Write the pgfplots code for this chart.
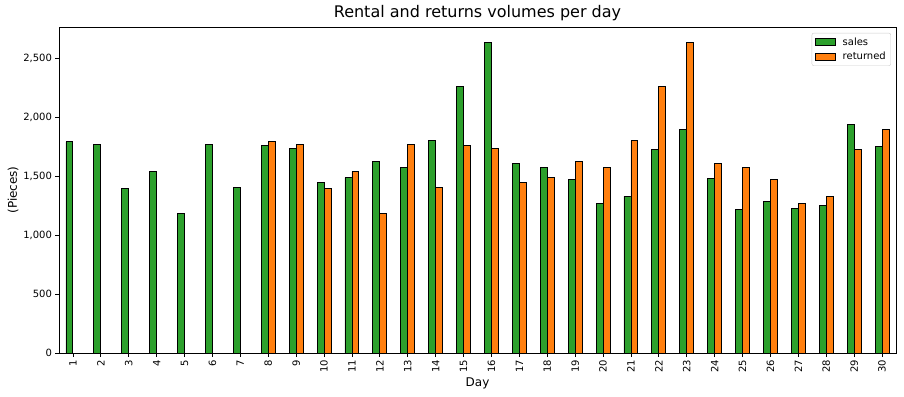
\documentclass[border=0pt]{standalone}
\usepackage{pgfplots}
\pgfplotsset{compat=1.18}
\usepackage{fontspec}
\setmainfont{DejaVu Sans}
\definecolor{mgreen}{HTML}{2CA02C}
\definecolor{morange}{HTML}{FF7F0E}
\begin{document}
\begin{tikzpicture}[x=1pt,y=1pt]
\begin{axis}[
  at={(0,0)}, anchor=south west,
  scale only axis, width=837pt, height=326pt,
  xmin=-0.5, xmax=29.5, ymin=0, ymax=2768,
  xtick={0,...,29},
  xticklabels={1,2,3,4,5,6,7,8,9,10,11,12,13,14,15,16,17,18,19,20,21,22,23,24,25,26,27,28,29,30},
  x tick label style={rotate=90, anchor=east, font=\fontsize{10}{12}\selectfont},
  ytick={0,500,1000,1500,2000,2500},
  y tick label style={font=\fontsize{10}{12}\selectfont},
  /pgf/number format/assume math mode=true,
  /pgf/number format/.cd, 1000 sep={,}, /pgfplots/.cd,
  scaled y ticks=false,
  tick align=outside, major tick length=3.5pt,
  xtick pos=bottom, ytick pos=left,
  axis line style={line width=0.8pt},
  tick style={line width=0.8pt, black},
  title={Rental and returns volumes per day},
  title style={font=\fontsize{16}{19}\selectfont, yshift=-3pt},
  xlabel={Day}, ylabel={(Pieces)},
  xlabel style={font=\fontsize{12}{14}\selectfont, yshift=2pt},
  ylabel style={font=\fontsize{12}{14}\selectfont, yshift=-2pt},
  legend style={at={(0.994,0.982)}, anchor=north east, font=\fontsize{10}{12}\selectfont,
    draw=black!20, rounded corners=2pt, inner xsep=3pt, inner ysep=2.5pt, row sep=1.5pt,
    /tikz/every odd column/.append style={column sep=5pt}},
  legend cell align=left,
  legend image code/.code={\draw[#1, sharp corners, line width=0.8pt] (0pt,-3.5pt) rectangle (20pt,3.5pt);},
]
\addplot[ybar, bar width=0.25, bar shift=-0.125, fill=mgreen, draw=black, line width=0.9pt] coordinates {
(0,1793) (1,1770) (2,1397) (3,1541) (4,1185) (5,1770) (6,1406) (7,1762) (8,1736) (9,1448)
(10,1490) (11,1626) (12,1578) (13,1804) (14,2262) (15,2636) (16,1609) (17,1575) (18,1473) (19,1270)
(20,1329) (21,1728) (22,1898) (23,1482) (24,1219) (25,1287) (26,1227) (27,1253) (28,1940) (29,1753)
};
\addlegendentry{sales}
\addplot[ybar, bar width=0.25, bar shift=0.125, fill=morange, draw=black, line width=0.9pt] coordinates {
(7,1793) (8,1770) (9,1397) (10,1541) (11,1185) (12,1770) (13,1406) (14,1762) (15,1736) (16,1448)
(17,1490) (18,1626) (19,1578) (20,1804) (21,2262) (22,2636) (23,1609) (24,1575) (25,1473) (26,1270)
(27,1329) (28,1728) (29,1898)
};
\addlegendentry{returned}
\end{axis}
\path[use as bounding box] (-59pt,-43pt) rectangle (845pt,353pt);
\end{tikzpicture}
\end{document}
